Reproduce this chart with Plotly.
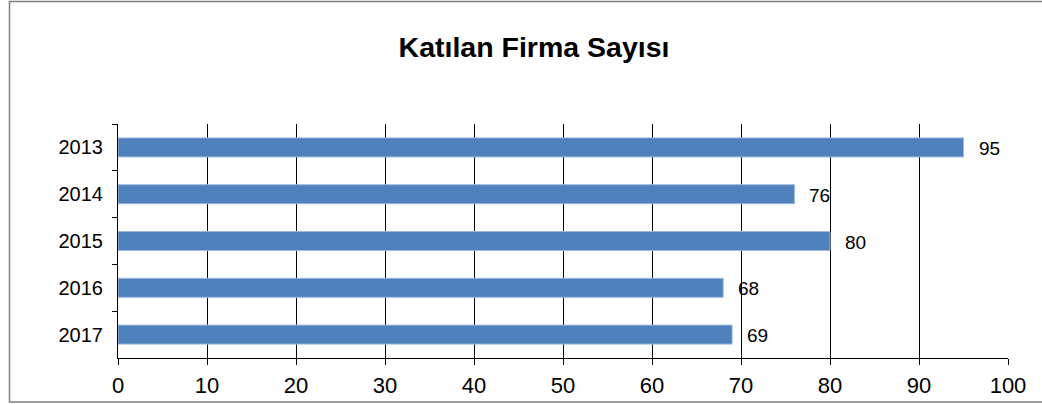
import plotly.graph_objects as go

years = ["2013", "2014", "2015", "2016", "2017"]
values = [95, 76, 80, 68, 69]
x_ticks = [0, 10, 20, 30, 40, 50, 60, 70, 80, 90, 100]
title_text = "Katılan Firma Sayısı"

FONT = "Liberation Sans, Arial, sans-serif"

fig = go.Figure()
fig.add_trace(go.Bar(
    y=years, x=values, orientation="h",
    marker=dict(color="#4F81BD", line=dict(color="#9DB9DF", width=1)),
    hoverinfo="x+y",
))

for i, v in enumerate(values):
    fig.add_annotation(x=v, y=i, text=str(v), showarrow=False,
                       xanchor="left", yanchor="middle", xshift=13, yshift=-1,
                       font=dict(family=FONT, size=19, color="#000000"))

fig.update_layout(
    width=1042, height=404,
    margin=dict(l=118, r=34, t=124, b=46, pad=0),
    paper_bgcolor="white", plot_bgcolor="white",
    showlegend=False,
    bargap=0.594,
    title=dict(text="<b>" + title_text + "</b>", x=534 / 1042, xanchor="center",
               y=1 - 47 / 404, yanchor="middle",
               font=dict(family=FONT, size=28.5, color="#000000")),
    xaxis=dict(range=[0, 100], tickvals=x_ticks, ticktext=[str(t) for t in x_ticks],
               automargin=False,
               showgrid=True, gridcolor="#000000", gridwidth=1,
               showline=True, linecolor="#000000", linewidth=1,
               ticks="outside", ticklen=6, tickcolor="#000000", tickwidth=1,
               ticklabelstandoff=2,
               tickfont=dict(family=FONT, size=22, color="#000000"),
               zeroline=False, fixedrange=True),
    yaxis=dict(type="category", categoryorder="array", categoryarray=years,
               range=[len(years) - 0.5, -0.5], autorange=False,
               automargin=False,
               showgrid=False, showline=True, linecolor="#000000", linewidth=1,
               ticks="outside", ticklen=5, tickcolor="#000000", tickwidth=1,
               tickson="boundaries",
               ticklabelstandoff=10,
               tickfont=dict(family=FONT, size=20, color="#000000"),
               zeroline=False, fixedrange=True),
    shapes=[dict(type="rect", xref="paper", yref="paper",
                 x0=(9.5 - 118) / 890, x1=(1050 - 118) / 890,
                 y0=(358 - 402) / 234, y1=(358 - 1.5) / 234,
                 line=dict(color="#7f7f7f", width=1.5), fillcolor="rgba(0,0,0,0)",
                 layer="below")],
)

fig.write_html("out.html", config={"displayModeBar": False})
with open("out.html", "r", encoding="utf-8") as f:
    html = f.read()
html = html.replace("<head>", "<head><style>html,body{margin:0;padding:0;overflow:hidden;}</style>", 1)
with open("out.html", "w", encoding="utf-8") as f:
    f.write(html)
